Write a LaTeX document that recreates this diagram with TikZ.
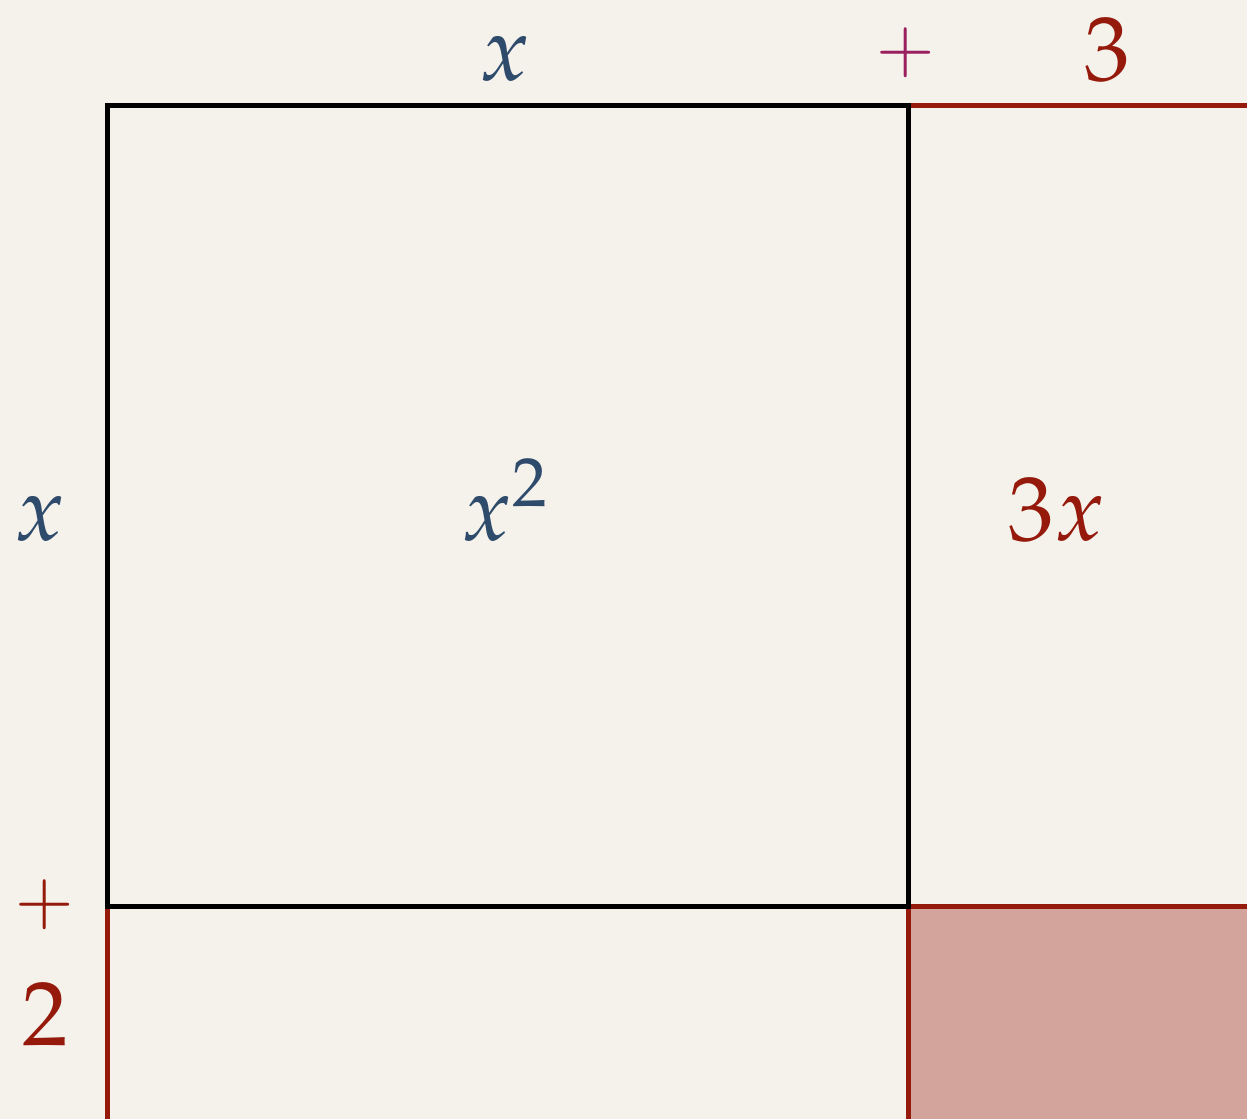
\documentclass[tikz,border=0pt]{standalone}
\usepackage{mathpazo}
\usepackage{tikz}
\usetikzlibrary{positioning}
\definecolor{paper}{HTML}{F5F2EC}
\definecolor{slate}{HTML}{2F4B6B}
\definecolor{brick}{HTML}{951A0C}
\definecolor{plum}{HTML}{9B2060}
\definecolor{rosefill}{HTML}{D3A49B}

\begin{document}
\begin{tikzpicture}[
    x=0.02cm, y=-0.02cm,
    label/.style={anchor=base, inner sep=0pt, font=\fontsize{52}{60}\selectfont},
    plussign/.style={anchor=base, inner sep=0pt, font=\fontsize{41}{48}\selectfont},
    blueterm/.style={label, text=slate},
    redterm/.style={label, text=brick},
    side/.style={line width=0.1cm, draw=black},
    redside/.style={line width=0.1cm, draw=brick}
]
    \fill[paper] (0,0) rectangle (1247,1119);
    \useasboundingbox (0,0) rectangle (1247,1119);
    % corners of the area model
    \coordinate (tl) at (107,105);
    \coordinate (tr) at (908,105);
    \coordinate (bl) at (107,906);
    \coordinate (br) at (908,906);
    \coordinate (tfar) at (1247,105);
    \coordinate (bfar) at (1247,906);
    \coordinate (lfoot) at (107,1119);
    \coordinate (rfoot) at (908,1119);
    \coordinate (corner) at (1247,1119);
    % shaded unit block
    \fill[rosefill] (br) rectangle (corner);
    % extension lines
    \draw[redside] (tr) -- (tfar);
    \draw[redside] (bl) -- (bfar);
    \draw[redside] (bl) -- (lfoot);
    \draw[redside] (br) -- (rfoot);
    % the x by x square
    \draw[side] (tl) rectangle (br);
    % labels
    \node (topx) [blueterm] at (505,80) {$x$};
    \node (topplus) [plussign, text=plum] at (906,71) {$+$};
    \node (topthree) [redterm] at (1107,80) {$3$};
    \node (leftx) [blueterm] at (40,540) {$x$};
    \node (area) [blueterm] at (505,540) {$x^2$};
    \node (strip) [redterm] at (1057,540) {$3x$};
    \node (leftplus) [plussign, text=brick] at (45,923) {$+$};
    \node (lefttwo) [redterm] at (45,1045) {$2$};
\end{tikzpicture}
\end{document}
